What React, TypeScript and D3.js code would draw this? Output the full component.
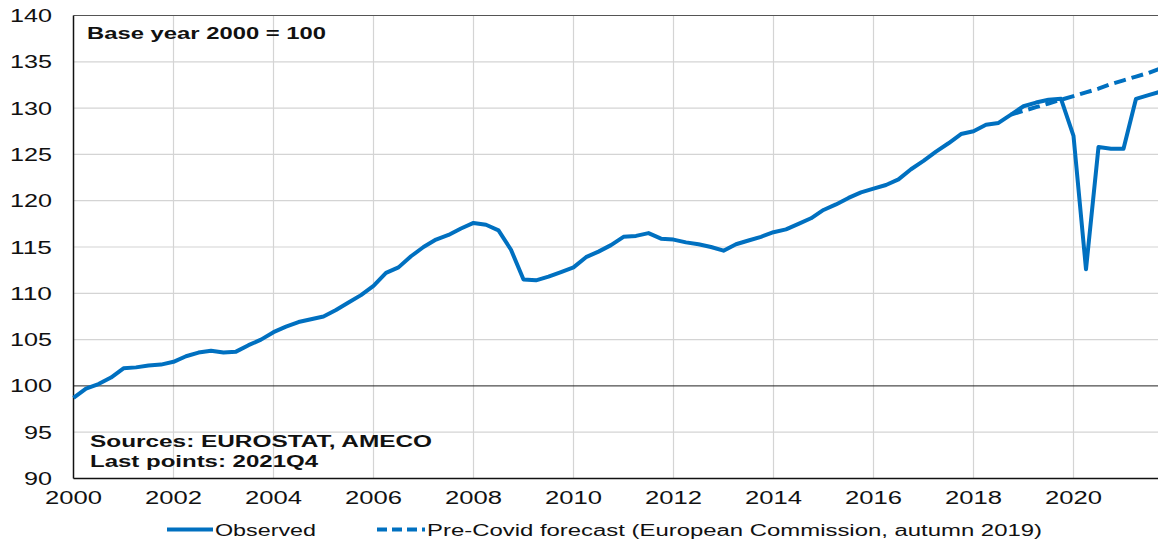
import React, { useEffect, useRef } from "react";
import * as d3 from "d3";

// quarterly index, base year 2000 = 100 (2000Q1 .. 2021Q4)
const observed = [
  98.7, 99.7, 100.2, 100.9,
  101.9, 102.0, 102.2, 102.3,
  102.6, 103.2, 103.6, 103.8,
  103.6, 103.7, 104.4, 105.0,
  105.8, 106.4, 106.9, 107.2,
  107.5, 108.2, 109.0, 109.8,
  110.8, 112.2, 112.8, 114.0,
  115.0, 115.8, 116.3, 117.0,
  117.6, 117.4, 116.8, 114.7,
  111.5, 111.4, 111.8, 112.3,
  112.8, 113.9, 114.5, 115.2,
  116.1, 116.2, 116.5, 115.9,
  115.8, 115.5, 115.3, 115.0,
  114.6, 115.3, 115.7, 116.1,
  116.6, 116.9, 117.5, 118.1,
  119.0, 119.6, 120.3, 120.9,
  121.3, 121.7, 122.3, 123.4,
  124.3, 125.3, 126.2, 127.2,
  127.5, 128.2, 128.4, 129.3,
  130.2, 130.6, 130.9, 131.0,
  127.0, 112.6, 125.8, 125.6,
  125.6, 131.0, 131.4, 131.8,
];

// EC autumn 2019 forecast, from 2018Q4 to 2021Q4
const forecastStart = 2018.75;
const forecast = [
  129.3,
  129.7, 130.1, 130.5, 130.9,
  131.3, 131.7, 132.1, 132.6,
  133.0, 133.4, 133.8, 134.3,
];

const yTicks = [90, 95, 100, 105, 110, 115, 120, 125, 130, 135, 140];
const xTicks = [2000, 2002, 2004, 2006, 2008, 2010, 2012, 2014, 2016, 2018, 2020];

const blue = "#0070c0";

export default function App() {
  const ref = useRef<SVGSVGElement>(null);

  useEffect(() => {
    const width = 1158, height = 542;
    const svg = d3.select(ref.current);
    svg.selectAll("*").remove();
    svg.attr("width", width).attr("height", height);

    const x = d3.scaleLinear().domain([2000, 2022]).range([73.5, 1173.5]);
    const y = d3.scaleLinear().domain([90, 140]).range([478.5, 15.5]);

    const font = "'Liberation Sans', Arial, sans-serif";

    // stretched text helper (the source picture is wide-ish)
    const txt = (s: string, x0: number, y0: number, w: number, size: number, bold = false) =>
      svg.append("text")
        .attr("x", x0).attr("y", y0)
        .attr("textLength", w).attr("lengthAdjust", "spacingAndGlyphs")
        .style("font-family", font).style("font-size", size + "px")
        .style("font-weight", bold ? "bold" : "normal")
        .attr("fill", "#111")
        .text(s);

    // grid
    svg.append("g").selectAll("line").data(yTicks.filter(d => d !== 90 && d !== 100 && d !== 140)).join("line")
      .attr("x1", x(2000)).attr("x2", width)
      .attr("y1", d => y(d)).attr("y2", d => y(d))
      .attr("stroke", "#d4d4d4").attr("stroke-width", 1.2);
    svg.append("g").selectAll("line").data(xTicks.slice(1)).join("line")
      .attr("x1", d => x(d)).attr("x2", d => x(d))
      .attr("y1", y(140)).attr("y2", y(90))
      .attr("stroke", "#d4d4d4").attr("stroke-width", 1.2);

    // frame & 100 line
    svg.append("line").attr("x1", x(2000)).attr("x2", width).attr("y1", y(140)).attr("y2", y(140))
      .attr("stroke", "#555").attr("stroke-width", 1);
    svg.append("line").attr("x1", x(2000)).attr("x2", width).attr("y1", y(100)).attr("y2", y(100))
      .attr("stroke", "#222").attr("stroke-width", 1);
    svg.append("line").attr("x1", x(2000)).attr("x2", width).attr("y1", y(90)).attr("y2", y(90))
      .attr("stroke", "#111").attr("stroke-width", 1.5);
    svg.append("line").attr("x1", x(2000)).attr("x2", x(2000)).attr("y1", y(140)).attr("y2", y(90))
      .attr("stroke", "#111").attr("stroke-width", 1.5);

    // tick labels
    yTicks.forEach(t => {
      const w = String(t).length * 14;
      txt(String(t), 52 - w, y(t) + 6.5, w, 17.5);
    });
    xTicks.forEach(t => {
      txt(String(t), x(t) - 28.5, 503.5, 57, 17.5);
    });

    // series
    const line = d3.line<number>();
    const obsPts: [number, number][] = observed.map((v, i) => [x(2000 + i / 4), y(v)]);
    const fcPts: [number, number][] = forecast.map((v, i) => [x(forecastStart + i / 4), y(v)]);

    svg.append("path")
      .attr("d", line(fcPts))
      .attr("fill", "none").attr("stroke", blue).attr("stroke-width", 4)
      .attr("stroke-dasharray", "12,6");
    svg.append("path")
      .attr("d", line(obsPts))
      .attr("fill", "none").attr("stroke", blue).attr("stroke-width", 4)
      .attr("stroke-linejoin", "round");

    // annotations
    txt("Base year 2000 = 100", 87, 38.5, 239, 17, true);
    txt("Sources: EUROSTAT, AMECO", 90, 447, 342, 16, true);
    txt("Last points: 2021Q4", 90, 467, 228, 16, true);

    // legend
    svg.append("line").attr("x1", 167).attr("x2", 213).attr("y1", 529.5).attr("y2", 529.5)
      .attr("stroke", blue).attr("stroke-width", 4);
    txt("Observed", 215, 535.5, 101, 16);
    svg.append("line").attr("x1", 377).attr("x2", 425).attr("y1", 529.5).attr("y2", 529.5)
      .attr("stroke", blue).attr("stroke-width", 4).attr("stroke-dasharray", "10,5");
    txt("Pre-Covid forecast (European Commission, autumn 2019)", 427, 535.5, 615, 16);
  }, []);

  return (
    <svg ref={ref} style={{ position: "absolute", left: 0, top: 0, background: "#fff" }}></svg>
  );
}
